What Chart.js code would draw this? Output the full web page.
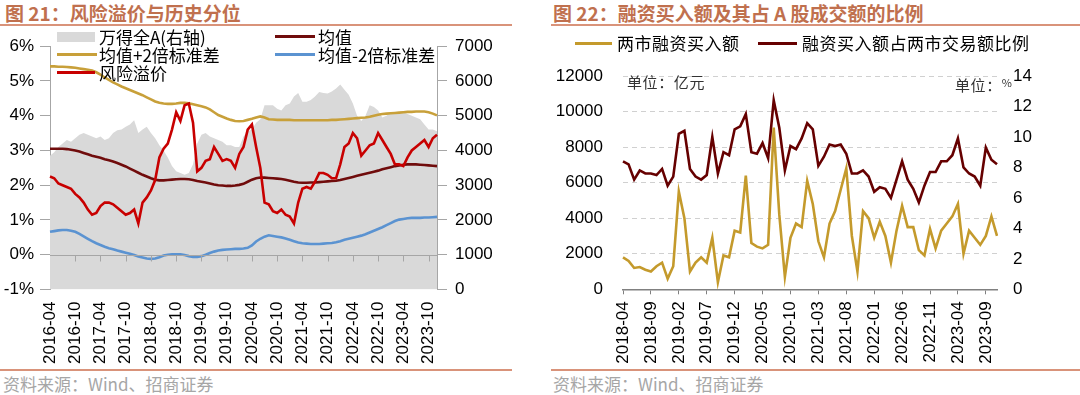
<!DOCTYPE html>
<html>
<head>
<meta charset="utf-8">
<script src="https://cdn.jsdelivr.net/npm/chart.js"></script>
<style>
  body { margin: 0; width: 1080px; height: 395px; background: #fff; position: relative; overflow: hidden;
         font-family: "Noto Sans CJK SC", "Liberation Sans", sans-serif; }
  .abs { position: absolute; white-space: nowrap; }
  .title { top: 1px; font-size: 19px; line-height: 24px; font-weight: bold; color: #c0704e; }
  .rule { height: 2px; background: #d9937a; }
  .src { top: 374px; font-size: 17px; line-height: 20px; color: #a6a6a6; }
  .lg { font-size: 17px; line-height: 20px; color: #000; }
  .sw { height: 3px; }
  .unit { font-size: 15px; line-height: 20px; color: #333; letter-spacing: 0.6px; }
  canvas { position: absolute; }
</style>
</head>
<body>
<div class="abs title" style="left:5px">图 21：风险溢价与历史分位</div>
<div class="abs title" style="left:553px">图 22：融资买入额及其占 A 股成交额的比例</div>
<div class="abs rule" style="left:0;top:24px;width:512px"></div>
<div class="abs rule" style="left:551px;top:24px;width:529px"></div>

<canvas id="left" width="512" height="342" style="left:0;top:28px"></canvas>
<canvas id="right" width="529" height="342" style="left:551px;top:28px"></canvas>

<!-- legend, chart 21 -->
<div class="abs" style="left:57px;top:32px;width:38px;height:10px;background:#d9d9d9"></div>
<div class="abs lg" style="left:99px;top:27px">万得全A(右轴)</div>
<div class="abs sw" style="left:275px;top:35px;width:40px;background:#700c0c"></div>
<div class="abs lg" style="left:318px;top:27px">均值</div>
<div class="abs sw" style="left:57px;top:53px;width:40px;background:#c8a03a"></div>
<div class="abs lg" style="left:99px;top:45px">均值+2倍标准差</div>
<div class="abs sw" style="left:275px;top:53px;width:40px;background:#5b93d1"></div>
<div class="abs lg" style="left:318px;top:45px">均值-2倍标准差</div>
<div class="abs sw" style="left:57px;top:71px;width:38px;background:#c80000"></div>
<div class="abs lg" style="left:99px;top:63px">风险溢价</div>

<!-- legend, chart 22 -->
<div class="abs sw" style="left:575px;top:42px;width:37px;background:#c49a2c"></div>
<div class="abs lg" style="left:617px;top:33px;letter-spacing:0.5px">两市融资买入额</div>
<div class="abs sw" style="left:758px;top:42px;width:39px;background:#660000"></div>
<div class="abs lg" style="left:802px;top:33px;letter-spacing:0.5px">融资买入额占两市交易额比例</div>
<div class="abs unit" style="left:627px;top:72px">单位：亿元</div>
<div class="abs unit" style="left:955px;top:72px">单位：<span style="font-size:11px;vertical-align:4px">%</span></div>

<div class="abs rule" style="left:0;top:369px;width:512px"></div>
<div class="abs rule" style="left:551px;top:369px;width:529px"></div>
<div class="abs src" style="left:3px">资料来源：Wind、招商证券</div>
<div class="abs src" style="left:553px">资料来源：Wind、招商证券</div>

<script>
// ---- chart 21 data (monthly, 2016-04 .. 2023-12) ----
var tickLabelsL = ['2016-04','2016-10','2017-04','2017-10','2018-04','2018-10','2019-04','2019-10',
                   '2020-04','2020-10','2021-04','2021-10','2022-04','2022-10','2023-04','2023-10'];
var riskPremium = [2.25,2.2,2.05,2.0,1.95,1.9,1.75,1.65,1.5,1.3,
                   1.15,1.2,1.4,1.5,1.5,1.45,1.35,1.25,1.15,1.2,
                   1.3,0.9,1.5,1.65,1.85,2.15,2.8,3.05,3.2,3.6,
                   4.1,3.85,4.3,4.35,3.8,2.4,2.5,2.7,2.75,3.1,
                   2.9,2.7,2.75,2.7,2.5,2.9,3.1,3.6,3.75,3.1,
                   2.5,1.5,1.45,1.25,1.2,1.3,1.15,1.1,0.9,1.5,
                   1.9,1.95,1.9,2.1,2.35,2.35,2.3,2.2,2.2,2.6,
                   3.1,3.2,3.5,3.35,2.85,3.0,3.15,3.2,3.5,3.3,
                   3.1,2.9,2.6,2.6,2.55,2.8,3.0,3.1,3.2,3.3,
                   3.1,3.35,3.45];
var meanLine = [3.05,3.05,3.05,3.05,3.04,3.02,3.00,2.97,2.93,2.89,
                2.85,2.82,2.79,2.75,2.72,2.68,2.64,2.59,2.54,2.48,
                2.42,2.36,2.30,2.25,2.20,2.16,2.14,2.14,2.15,2.16,
                2.17,2.18,2.18,2.17,2.15,2.12,2.10,2.08,2.05,2.02,
                2.00,1.99,1.98,1.98,1.99,2.01,2.04,2.10,2.16,2.20,
                2.22,2.22,2.21,2.20,2.19,2.18,2.16,2.13,2.10,2.08,
                2.07,2.07,2.08,2.08,2.09,2.10,2.11,2.12,2.13,2.15,
                2.18,2.21,2.24,2.27,2.30,2.33,2.36,2.39,2.42,2.46,
                2.49,2.52,2.55,2.57,2.59,2.60,2.60,2.60,2.59,2.58,
                2.57,2.56,2.55];
var upperBand = [5.42,5.42,5.41,5.41,5.40,5.39,5.38,5.36,5.34,5.32,
                 5.30,5.25,5.18,5.10,5.03,4.96,4.90,4.84,4.79,4.74,
                 4.69,4.64,4.59,4.53,4.47,4.41,4.37,4.35,4.34,4.34,
                 4.35,4.37,4.37,4.36,4.33,4.30,4.27,4.24,4.18,4.10,
                 4.02,3.97,3.92,3.88,3.85,3.84,3.85,3.88,3.91,3.95,
                 3.98,3.95,3.90,3.89,3.88,3.88,3.88,3.88,3.87,3.87,
                 3.87,3.87,3.87,3.87,3.87,3.87,3.87,3.88,3.88,3.89,
                 3.90,3.91,3.92,3.93,3.94,3.95,3.97,4.00,4.03,4.05,
                 4.06,4.07,4.08,4.09,4.10,4.11,4.11,4.12,4.12,4.12,
                 4.10,4.06,4.01];
var lowerBand = [0.66,0.68,0.70,0.71,0.71,0.69,0.66,0.60,0.53,0.46,
                 0.39,0.33,0.28,0.23,0.19,0.16,0.12,0.09,0.06,0.03,
                 -0.01,-0.05,-0.08,-0.11,-0.12,-0.11,-0.07,-0.02,0.00,0.01,
                 0.01,0.01,-0.01,-0.04,-0.06,-0.06,-0.04,0.00,0.05,0.09,
                 0.12,0.14,0.15,0.16,0.17,0.17,0.18,0.20,0.27,0.38,
                 0.46,0.52,0.56,0.54,0.52,0.50,0.47,0.43,0.39,0.35,
                 0.33,0.32,0.31,0.31,0.31,0.32,0.33,0.34,0.36,0.39,
                 0.43,0.46,0.49,0.52,0.55,0.59,0.64,0.69,0.74,0.79,
                 0.85,0.91,0.97,1.01,1.03,1.05,1.06,1.06,1.06,1.07,
                 1.07,1.08,1.09];
var windA = [3850,3950,4100,4200,4300,4250,4350,4450,4500,4450,
             4400,4350,4400,4300,4350,4500,4580,4600,4680,4750,
             4870,4500,4600,4680,4500,4350,4150,4000,3800,3550,
             3400,3350,3300,3350,3600,4200,4450,4500,4400,4350,
             4300,4250,4150,4150,4100,4100,4400,4550,4600,4800,
             4900,5300,5300,5300,5200,5150,5300,5350,5550,5650,
             5400,5400,5450,5550,5680,5650,5640,5700,5780,5900,
             5750,5600,5350,5000,4850,5000,5300,5250,5150,4950,
             5000,5100,5100,5100,5100,5050,5000,4950,4900,4750,
             4600,4600,4550];

// ---- chart 22 data (monthly, 2018-04 .. 2023-11) ----
var tickLabelsR = ['2018-04','2018-09','2019-02','2019-07','2019-12','2020-05','2020-10',
                   '2021-03','2021-08','2022-01','2022-06','2022-11','2023-04','2023-09'];
var marginBuy = [1800,1600,1200,1250,1100,1000,1300,1500,600,1300,
                 5500,4000,1000,1500,1800,1500,2900,400,1900,1800,
                 3300,3200,6400,2600,2400,2300,2500,9100,4200,700,
                 2900,3700,3500,6100,4800,2700,1800,3700,4400,5600,
                 6800,3000,1000,4400,4000,2900,3800,3000,1500,3300,
                 4700,3500,3500,2200,1900,3400,2300,3300,3700,4100,
                 4800,2000,3300,2900,2500,3000,4100,3000];
var marginRatio = [8.4,8.2,7.2,7.8,7.6,7.6,7.5,7.9,6.8,7.4,
                   10.2,10.4,7.9,7.4,7.2,7.5,10.0,7.6,9.0,8.8,
                   10.5,10.7,11.5,9.0,8.9,9.6,8.6,12.4,10.6,7.8,
                   9.4,9.2,9.9,10.9,10.5,8.1,8.7,9.5,9.4,9.5,
                   8.9,7.6,7.6,7.8,7.4,6.4,6.7,6.6,6.0,7.2,
                   8.4,7.2,6.6,5.7,6.8,7.7,7.7,8.4,8.4,8.8,
                   9.9,8.0,7.6,7.4,6.8,9.3,8.5,8.2];

function months(y, m, n) {
  var out = [];
  for (var i = 0; i < n; i++) {
    var k = m - 1 + i;
    out.push((y + Math.floor(k / 12)) + '-' + String(k % 12 + 1).padStart(2, '0'));
  }
  return out;
}
var monthsL = months(2016, 4, riskPremium.length);
var monthsR = months(2018, 4, marginBuy.length);

var tickFont = { family: "'Liberation Sans', Arial, sans-serif", size: 17 };
var axisGray = '#a6a6a6';
var plain = function(v) { return String(v); };  // no thousands separator

// 0% line with its tick marks, drawn over the grey area like the original
var zeroAxis = {
  id: 'zeroAxis',
  afterDatasetsDraw: function(chart) {
    var ctx = chart.ctx, area = chart.chartArea, sx = chart.scales.x;
    var y0 = Math.round(chart.scales.y.getPixelForValue(0)) + 0.5;
    ctx.save();
    ctx.strokeStyle = axisGray;
    ctx.lineWidth = 1;
    ctx.beginPath();
    ctx.moveTo(area.left, y0);
    ctx.lineTo(area.right, y0);
    monthsL.forEach(function(m, i) {
      if (i > 0 && tickLabelsL.indexOf(m) >= 0) {
        var x = Math.round(sx.getPixelForValue(i)) + 0.5;
        ctx.moveTo(x, y0);
        ctx.lineTo(x, y0 + 6);
      }
    });
    ctx.stroke();
    ctx.restore();
  }
};

new Chart(document.getElementById('left').getContext('2d'), {
  type: 'line',
  data: {
    labels: monthsL,
    datasets: [
      { label: '风险溢价', data: riskPremium, yAxisID: 'y', borderColor: '#c80000', borderWidth: 2.6, order: 0 },
      { label: '均值', data: meanLine, yAxisID: 'y', borderColor: '#700c0c', borderWidth: 2.6, order: 1 },
      { label: '均值+2倍标准差', data: upperBand, yAxisID: 'y', borderColor: '#c8a03a', borderWidth: 2.6, order: 2 },
      { label: '均值-2倍标准差', data: lowerBand, yAxisID: 'y', borderColor: '#5b93d1', borderWidth: 2.6, order: 3 },
      { label: '万得全A(右轴)', data: windA, yAxisID: 'y1', borderWidth: 0, backgroundColor: '#d9d9d9',
        fill: 'origin', order: 10 }
    ]
  },
  options: {
    responsive: false,
    animation: false,
    devicePixelRatio: 1,
    layout: { padding: { top: 18, left: 0, right: 0, bottom: 0 } },
    elements: { point: { radius: 0 }, line: { tension: 0 } },
    plugins: { legend: { display: false }, tooltip: { enabled: false } },
    scales: {
      x: {
        offset: false,
        grid: { display: false, drawTicks: false },
        border: { display: false },
        ticks: {
          autoSkip: false, minRotation: 90, maxRotation: 90, padding: 12,
          font: tickFont, color: '#000',
          callback: function(v, i) { return tickLabelsL.indexOf(monthsL[i]) >= 0 ? monthsL[i] : ''; }
        },
        afterFit: function(s) { s.height = 80.5; }
      },
      y: {
        position: 'left', min: -1, max: 6, z: 1,
        ticks: { stepSize: 1, padding: 6, font: tickFont, color: '#000',
                 callback: function(v) { return v + '%'; } },
        grid: { drawOnChartArea: false, tickLength: 10, color: axisGray },
        border: { color: axisGray },
        afterFit: function(s) { s.width = 50; }
      },
      y1: {
        position: 'right', min: 0, max: 7000, z: 1,
        ticks: { stepSize: 1000, padding: 8, font: tickFont, color: '#000', callback: plain },
        grid: { drawOnChartArea: false, tickLength: 10, color: axisGray },
        border: { color: axisGray },
        afterFit: function(s) { s.width = 75; }
      }
    }
  },
  plugins: [zeroAxis]
});

new Chart(document.getElementById('right').getContext('2d'), {
  type: 'line',
  data: {
    labels: monthsR,
    datasets: [
      { label: '两市融资买入额', data: marginBuy, yAxisID: 'y', borderColor: '#c49a2c', borderWidth: 2.6, order: 0 },
      { label: '融资买入额占两市交易额比例', data: marginRatio, yAxisID: 'y1', borderColor: '#660000', borderWidth: 2.6, order: 1 }
    ]
  },
  options: {
    responsive: false,
    animation: false,
    devicePixelRatio: 1,
    layout: { padding: { top: 48, left: 0, right: 0, bottom: 0 } },
    elements: { point: { radius: 0 }, line: { tension: 0 } },
    plugins: { legend: { display: false }, tooltip: { enabled: false } },
    scales: {
      x: {
        offset: false,
        grid: {
          drawOnChartArea: false, drawTicks: true, tickLength: 5,
          color: function(c) { return tickLabelsR.indexOf(monthsR[c.index]) >= 0 ? '#808080' : 'rgba(0,0,0,0)'; }
        },
        border: { display: true, color: '#808080', width: 1.5 },
        ticks: {
          autoSkip: false, minRotation: 90, maxRotation: 90, padding: 7,
          font: tickFont, color: '#000',
          callback: function(v, i) { return tickLabelsR.indexOf(monthsR[i]) >= 0 ? monthsR[i] : ''; }
        },
        afterFit: function(s) { s.height = 80.7; }
      },
      y: {
        position: 'left', min: 0, max: 12000,
        ticks: { stepSize: 2000, padding: 20, font: tickFont, color: '#000', callback: plain },
        grid: { color: '#d0d0d0', drawTicks: false },
        border: { display: false, dash: [5, 4] },
        afterFit: function(s) { s.width = 72; }
      },
      y1: {
        position: 'right', min: 0, max: 14,
        ticks: { stepSize: 2, padding: 16, font: tickFont, color: '#000', callback: plain },
        grid: { drawOnChartArea: false, drawTicks: false },
        border: { display: false },
        afterFit: function(s) { s.width = 83; }
      }
    }
  }
});
</script>
</body>
</html>
